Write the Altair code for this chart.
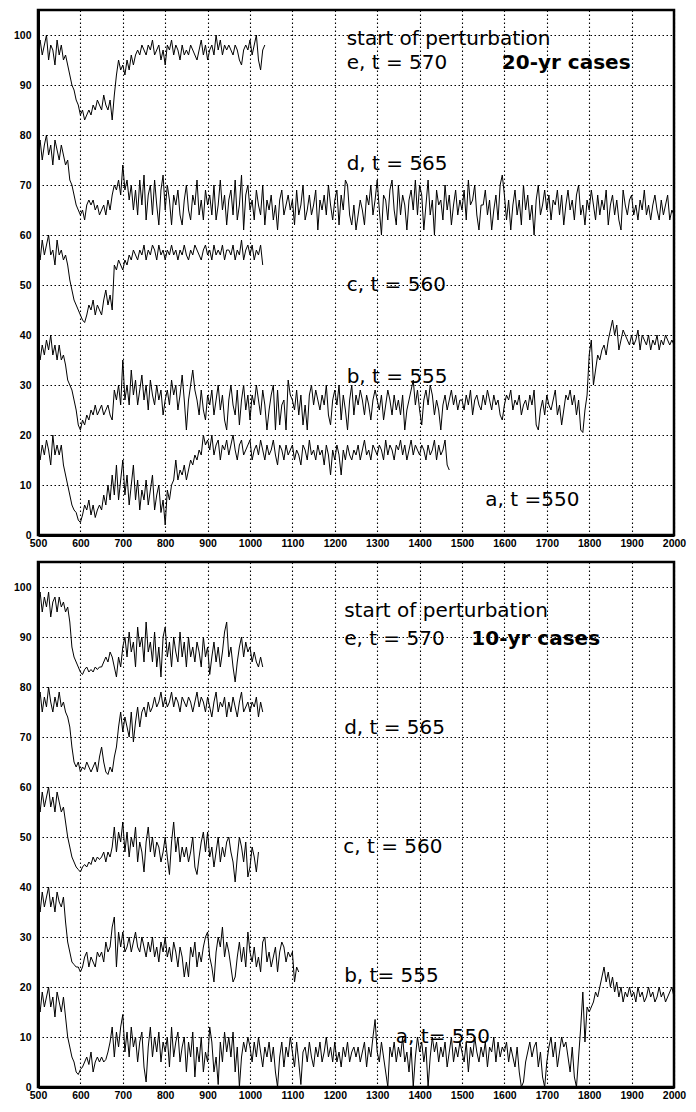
import altair as alt
import pandas as pd

START = 500
STEP = 5

# ---------------- 20-yr cases (top panel) ----------------
top_e = [
    97, 99, 96, 98, 100, 95, 98, 97, 94, 99,
    96, 98, 95, 96, 94, 92, 90, 89, 87, 86,
    84, 85, 83, 84, 85, 84, 86, 85, 87, 86,
    85, 88, 86, 85, 87, 83, 88, 92, 95, 93,
    94, 92, 95, 93, 96, 94, 96, 97, 96, 98,
    97, 96, 98, 97, 99, 96, 97, 98, 95, 97,
    94, 98, 97, 99, 96, 98, 97, 95, 98, 96,
    97, 96, 98, 97, 96, 95, 97, 99, 96, 98,
    95, 97, 98, 96, 100, 97, 99, 96, 98, 97,
    98, 97, 96, 98, 97, 95, 94, 97, 98, 97,
    99, 96, 98, 100, 95, 93, 97, 98,
]
top_d = [
    77, 79, 75, 78, 80, 76, 78, 74, 79, 77,
    75, 78, 76, 74, 75, 71, 70, 68, 66, 65,
    64, 65, 63, 66, 67, 66, 67, 65, 66, 64,
    65, 66, 64, 67, 65, 68, 70, 69, 71, 68,
    74, 69, 71, 67, 70, 65, 69, 64, 71, 66,
    72, 63, 68, 70, 64, 71, 66, 62, 69, 72,
    65, 70, 67, 62, 68, 66, 69, 64, 62, 67,
    70, 65, 63, 68, 66, 71, 64, 67, 63, 69,
    66, 68, 64, 70, 63, 66, 71, 65, 68, 62,
    67, 69, 64, 71, 63, 66, 72, 61, 68, 70,
    65, 67, 63, 69, 66, 64, 70, 62, 67, 65,
    68, 63, 66, 61, 67, 69, 64, 66, 68, 65,
    67, 62, 69, 64, 66, 70, 63, 65, 68, 64,
    66, 69, 61, 67, 65, 68, 64, 70, 66, 63,
    67, 69, 62, 68, 65, 71, 70, 64, 62, 66,
    61, 64, 67, 65, 62, 68, 66, 70, 64, 67,
    71, 65, 60, 68, 67, 63, 69, 71, 65, 62,
    70, 64, 68, 66, 61, 67, 69, 65, 71, 64,
    70, 68, 61, 66, 71, 64, 67, 60, 69, 66,
    67, 63, 70, 65, 68, 62, 66, 69, 64, 67,
    65, 69, 63, 71, 66, 67, 70, 64, 61, 66,
    66, 69, 64, 67, 61, 65, 68, 63, 70, 72,
    68, 63, 67, 61, 66, 69, 64, 67, 62, 70,
    65, 68, 63, 66, 60, 67, 70, 64, 66, 69,
    65, 68, 63, 67, 66, 69, 64, 68, 62, 66,
    69, 65, 67, 63, 68, 70, 64, 66, 62, 67,
    65, 69, 66, 63, 68, 64, 67, 65, 69, 62,
    66, 68, 64, 67, 63, 61, 69, 66, 64, 67,
    68, 64, 66, 63, 67, 65, 69, 64, 66, 63,
    66, 68, 65, 63, 67, 64, 66, 68, 63, 65,
    64,
]
top_c = [
    57, 55, 59, 56, 58, 60, 56, 57, 54, 59,
    56, 57, 55, 56, 54, 51, 49, 47, 46, 45,
    44, 43, 42.5, 44, 46, 45, 47, 44, 46, 45,
    44, 47, 49, 46, 48, 45, 54, 53, 55, 54,
    53, 55, 54, 56, 55, 57, 56, 55, 57, 56,
    58, 55, 57, 56, 58, 57, 55, 58, 56, 57,
    55, 57, 56, 58, 56, 57, 55, 57, 56, 58,
    56, 55, 57, 56, 58, 57, 56, 55, 57, 58,
    56, 57, 55, 58, 56, 57, 56, 58, 55, 57,
    57, 56, 58, 55, 57, 56, 59, 55, 57, 58,
    56, 58, 55, 57, 56, 58, 54,
]
top_b = [
    37, 35, 38, 36, 39, 37, 40, 36, 38, 35,
    38, 35, 36, 34, 31, 30, 29, 27, 25, 22,
    21, 23, 22, 24, 23, 25, 24, 26, 24, 25,
    26, 24, 25, 26, 24, 23, 29, 27, 30, 26,
    35, 27, 30, 26, 33, 28, 31, 26, 29, 32,
    27, 30, 25, 31, 28, 26, 30, 27, 29, 24,
    27, 29, 26, 31, 28, 30, 25, 28, 32, 27,
    21, 27, 30, 33, 29, 27, 24, 29, 25, 23,
    28, 26, 29, 24, 27, 30, 25, 28, 23, 21,
    27, 30, 26, 24, 29, 22, 27, 30, 25, 28,
    23, 28, 26, 30, 27, 24, 29, 26, 21, 25,
    28, 30, 21, 29, 22, 26, 27, 21, 31, 28,
    27, 25, 29, 24, 28, 22, 26, 21, 28, 30,
    26, 29, 27, 25, 28, 26, 30, 24, 22, 27,
    29, 26, 30, 23, 28, 25, 21, 27, 30, 24,
    28, 26, 29, 27, 24, 28, 26, 23, 27, 29,
    27, 25, 28, 23, 26, 29, 27, 24, 28, 25,
    27, 24, 28, 21, 25, 27, 29, 31, 26, 29,
    25, 22, 27, 29, 26, 30, 28, 24, 27, 25,
    21, 26, 28, 25, 27, 29, 26, 28, 25, 27,
    27, 25, 28, 26, 29, 24, 27, 28, 26, 25,
    28, 26, 29, 27, 25, 28, 26, 27, 24, 23,
    26, 28, 27, 29, 25, 27, 26, 28, 24, 26,
    27, 25, 28, 26, 29, 22, 21, 25, 27, 24,
    28, 26, 25, 27, 29, 24, 26, 22, 25, 28,
    27, 29, 26, 28, 24, 27, 21, 20.5, 25, 28,
    36, 39, 30, 33, 36, 35, 37, 38, 36, 39,
    41, 43, 40, 42, 37, 39, 41, 40, 39, 38,
    40, 38, 39, 41, 37, 40, 39, 38, 40, 37,
    39, 38, 40, 37, 39, 38, 40, 39, 38, 39,
    38,
]
top_a = [
    17, 15, 18, 16, 19, 17, 14, 20, 16, 18,
    16, 18, 14, 12, 10, 8, 6, 5, 4.5, 3,
    2.5, 4, 6, 5, 7, 4, 6, 3.5, 5, 6,
    5, 8, 6, 10, 7, 12, 8, 14, 7, 11,
    15, 8, 12, 6, 10, 14, 7, 11, 5, 9,
    7, 11, 6, 9, 12, 5, 8, 10, 4.5, 7,
    2, 9, 7, 10, 11, 15, 11, 13, 12, 14,
    11, 13, 15, 14, 16, 15, 17, 16, 20, 18,
    19, 17, 20, 16, 18, 19, 15, 18, 17, 19,
    16, 18, 20, 17, 15, 18, 19, 16, 17, 18,
    19, 15, 17, 18, 16, 19, 17, 15, 18, 16,
    17, 19, 16, 14, 18, 17, 15, 18, 16, 17,
    18, 15, 17, 16, 14, 18, 17, 15, 19, 16,
    17, 15, 18, 16, 17, 14, 18, 16, 12, 17,
    15, 18, 16, 12, 17, 15, 18, 16, 15, 17,
    16, 18, 15, 17, 19, 16, 17, 15, 18, 17,
    16, 18, 17, 15, 19, 16, 18, 17, 15, 18,
    17, 19, 16, 18, 15, 17, 19, 16, 18, 17,
    16, 18, 17, 15, 18, 16, 17, 19, 15, 18,
    16, 17, 19, 14, 13,
]

# ---------------- 10-yr cases (bottom panel) ----------------
bot_e = [
    97, 99, 95, 98, 96, 99, 94, 97, 98, 95,
    98, 96, 97, 95, 96, 93, 88, 86, 85, 84,
    83, 82.5, 83.5, 84, 83, 83.5, 83, 84, 83.5, 84,
    84, 85, 86, 85, 87, 86, 84, 82, 86, 84,
    88, 90, 86, 91, 87, 89, 84, 92, 88, 90,
    85, 93, 87, 89, 85, 91, 84, 88, 82, 90,
    92, 86, 89, 84, 90, 87, 85, 91, 86, 89,
    84, 90, 86, 88, 85, 89, 87, 84, 90, 86,
    88, 82.5, 86, 89, 85, 88, 84, 87, 91, 93,
    86, 88, 84, 81, 85, 88, 90, 86, 89, 87,
    88, 85, 87, 85, 84, 86, 84,
]
bot_d = [
    77, 79, 75, 78, 76, 80, 77, 75, 78, 76,
    79, 76, 77, 75, 74, 72, 68, 65, 64, 65,
    63, 64, 63.5, 65, 64, 63, 64, 65, 63, 66,
    68, 65, 63, 62.5, 64, 63, 66, 68, 72, 75,
    71, 74, 72, 70, 75, 69, 73, 76, 72, 75,
    76, 74, 77, 75, 76, 78, 76, 77, 79, 76,
    78, 76, 77, 79, 76, 78, 77, 75, 78, 77,
    76, 78, 77, 75, 77, 79, 76, 78, 77, 75,
    78, 76, 74, 77, 79, 75, 77, 76, 78, 74,
    77, 75, 78, 76, 74, 77, 79, 75, 76, 77,
    75, 77, 76, 78, 74, 77, 75,
]
bot_c = [
    57, 55, 59, 56, 58, 60, 56, 58, 55, 59,
    57, 55, 56, 53, 50, 48, 46, 45, 44, 43.5,
    43, 44, 44.5, 44, 45, 44.5, 46, 45, 46, 45.5,
    46, 47, 45, 47, 46, 48, 52, 47, 51, 49,
    53, 47, 51, 46, 50, 48, 52, 45, 49, 47,
    43, 49, 52, 47, 50, 46, 49, 48, 45, 47,
    50, 46, 42.5, 49, 53, 47, 50, 45, 48, 46,
    48, 45, 47, 50, 44, 42.5, 46, 49, 51, 47,
    51, 46, 48, 44, 47, 50, 45, 48, 46, 49,
    50, 47, 45, 41, 46, 50, 48, 45, 49, 42,
    44, 48, 46, 43, 47,
]
bot_b = [
    37, 35, 39, 36, 38, 40, 36, 38, 35, 39,
    37, 36, 38, 33, 29, 27, 25, 24.5, 24, 24,
    23, 24, 26, 27, 24, 26, 25, 24, 27, 26,
    27, 25, 29, 27, 28, 32, 34, 24, 31, 28,
    31, 27, 28, 30, 27, 29, 31, 28, 27, 30,
    28, 26, 29, 27, 30, 26, 28, 25, 29, 27,
    30, 26, 28, 25, 29, 27, 24, 28, 26, 22,
    25, 22, 28, 26, 29, 24, 27, 25, 28, 30,
    31, 26, 24, 21, 27, 30, 28, 32, 26, 29,
    27, 24, 21, 22, 26, 29, 25, 28, 24, 31,
    27, 25, 28, 24, 26, 23, 29, 30, 25, 27,
    24, 26, 28, 23, 27, 29, 28, 25, 27, 26,
    27, 21, 24, 23,
]
bot_a = [
    17, 15, 19, 16, 18, 20, 16, 18, 14, 19,
    17, 15, 18, 14, 10, 8, 6, 5, 3, 2.5,
    3.5, 4, 5, 6, 4.5, 7, 3, 5, 6, 5,
    6, 5, 5.5, 7, 9, 12, 6, 11, 8, 12,
    14.5, 7, 11, 6, 12, 8, 10, 5, 9, 11,
    4, 1, 8, 12, 6, 10, 7, 11, 5, 9,
    7, 10, 4, 12, 6, 9, 11, 5, 8, 10,
    3, 9, 6, 11, 2, 8, 5, 10, 3, 7,
    5, 12, 9, 3, 6, 0.5, 9, 5, 11, 7,
    10, 6, 11, 3, 8, 0, 6, 9, 7, 10,
    8, 5, 9, 6, 10, 7, 4, 8, 6, 9,
    5, 8, 3, 0, 6, 9, 4, 8, 6, 10,
    7, 4, 9, 5, 0.5, 7, 8, 5, 9, 6,
    4, 8, 6, 9, 5, 7, 10, 6, 8, 5,
    9, 5, 7, 4, 8, 6, 9, 5, 7, 8,
    6, 8, 5, 7, 9, 4, 8, 6, 10, 13.5,
    7, 5, 9, 6, 3, 0, 8, 6, 9, 5,
    8, 6, 10, 5, 7, 3, 8, 0, 6, 10,
    7, 9, 5, 8, 0, 6, 10, 7, 9, 5,
    8, 6, 9, 4, 7, 10, 5, 8, 6, 9,
    7, 5, 9, 3, 8, 6, 10, 7, 5, 8,
    6, 9, 4, 8, 7, 10, 5, 9, 6, 8,
    7, 9, 5, 8, 6, 4, 8, 3, 0, 1,
    5, 7, 9, 6, 8, 9, 4, 7, 2, 0,
    5, 8, 10, 6, 9, 4, 7, 10, 8, 9,
    6, 3, 8, 2, 0, 6, 12, 19, 9, 16,
    15, 16, 17, 19, 18, 20, 22, 24, 21, 23,
    20, 22, 19, 21, 18, 20, 17, 19, 18, 20,
    18, 19, 17, 20, 18, 19, 17, 18, 20, 18,
    19, 17, 18, 20, 18, 19, 17, 18, 19, 20,
    18,
]

x_ticks = list(range(500, 2001, 100))
y_ticks = list(range(0, 101, 10))

# annotation texts (anchored in data units)
top_texts = ["start of perturbation", "e, t = 570", "d, t = 565", "c, t = 560", "b, t = 555", "a, t =550"]
top_text_year = [1228, 1228, 1228, 1228, 1228, 1555]
top_text_val = [98.0, 93.2, 73.1, 48.9, 30.5, 5.9]
top_bold = ["20-yr cases"]
top_bold_year = [1594]
top_bold_val = [93.2]

bot_texts = ["start of perturbation", "e, t = 570", "d, t = 565", "c, t = 560", "b, t= 555", "a, t= 550"]
bot_text_year = [1222, 1222, 1222, 1220, 1222, 1344]
bot_text_val = [94.0, 88.5, 70.6, 46.8, 21.0, 8.9]
bot_bold = ["10-yr cases"]
bot_bold_year = [1522]
bot_bold_val = [88.5]


def series_frame(series):
    rows = []
    for name, vals in series.items():
        for i, v in enumerate(vals):
            rows.append({"series": name, "year": START + STEP * i, "value": v})
    return pd.DataFrame(rows)


def text_frame(texts, years, vals):
    return pd.DataFrame({"label": texts, "year": years, "value": vals})


x_enc = alt.X(
    "year:Q",
    scale=alt.Scale(domain=[500, 2000], nice=False, zero=False),
    axis=alt.Axis(values=x_ticks, title=None, ticks=False, labelPadding=3,
                  labelFlush=False, labelOverlap=False, format="d", grid=True),
)
y_enc = alt.Y(
    "value:Q",
    scale=alt.Scale(domain=[0, 105], nice=False, zero=False),
    axis=alt.Axis(values=y_ticks, title=None, ticks=False, labelPadding=7,
                  minExtent=28, labelOverlap=False, format="d", grid=True),
)


def panel(series, texts, years, vals, btexts, byears, bvals, h):
    lines = alt.Chart(series_frame(series)).mark_line(
        color="black", strokeWidth=1, clip=True
    ).encode(x=x_enc, y=y_enc, detail="series:N", order="year:Q")
    labels = alt.Chart(text_frame(texts, years, vals)).mark_text(
        font="DejaVu Sans", fontSize=20, align="left", baseline="alphabetic", color="black"
    ).encode(x="year:Q", y="value:Q", text="label:N")
    blabels = alt.Chart(text_frame(btexts, byears, bvals)).mark_text(
        font="DejaVu Sans", fontSize=20, fontWeight="bold", align="left",
        baseline="alphabetic", color="black"
    ).encode(x="year:Q", y="value:Q", text="label:N")
    return alt.layer(lines, labels, blabels).properties(width=636, height=h)


top = panel({"e": top_e, "d": top_d, "c": top_c, "b": top_b, "a": top_a},
            top_texts, top_text_year, top_text_val,
            top_bold, top_bold_year, top_bold_val, 525)
bottom = panel({"e": bot_e, "d": bot_d, "c": bot_c, "b": bot_b, "a": bot_a},
               bot_texts, bot_text_year, bot_text_val,
               bot_bold, bot_bold_year, bot_bold_val, 525)

chart = alt.vconcat(top, bottom, spacing=10).properties(
    padding={"left": 0, "top": 0, "right": 0, "bottom": 0}
).configure_view(
    stroke="black", strokeWidth=2.5
).configure_axis(
    domainColor="black", domainWidth=3,
    gridColor="black", gridDash=[1.5, 2.5], gridWidth=1.1, gridOpacity=1,
    labelFont="Liberation Sans", labelFontWeight="bold", labelFontSize=10.5,
    labelColor="black",
)

chart.save("out.html", embed_options={"renderer": "svg", "actions": False})
